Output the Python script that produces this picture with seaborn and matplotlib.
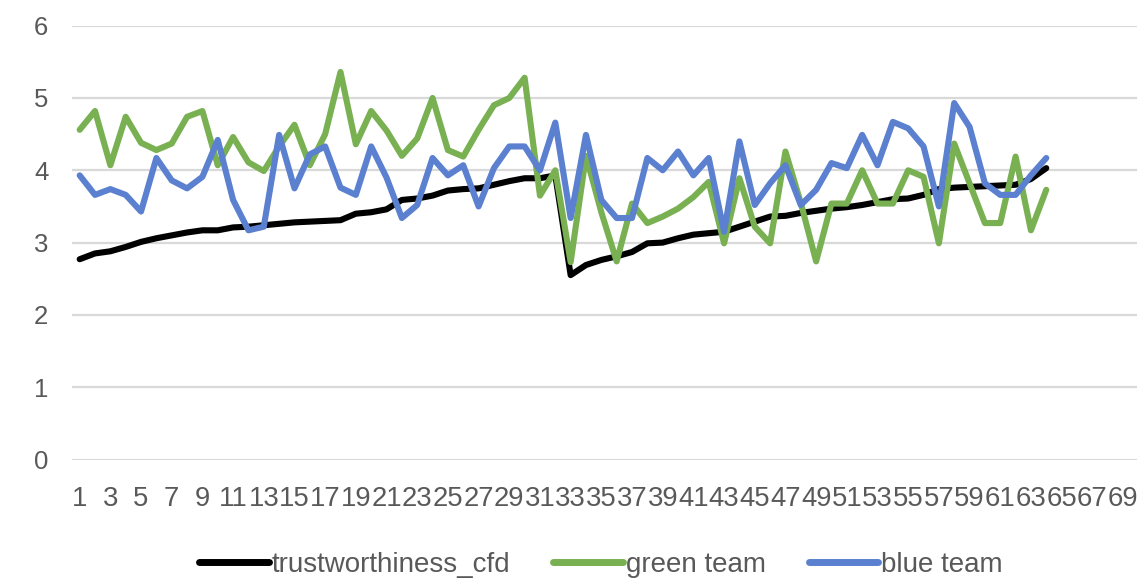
import numpy as np
import pandas as pd
import matplotlib
matplotlib.use("Agg")
import matplotlib.pyplot as plt
import seaborn as sns

# values, rows 1..64
trust_cfd = [2.77, 2.85, 2.88, 2.94, 3.01, 3.06, 3.10, 3.14, 3.17, 3.17,
             3.21, 3.22, 3.24, 3.26, 3.28, 3.29, 3.30, 3.31, 3.40, 3.42,
             3.46, 3.59, 3.61, 3.65, 3.72, 3.74, 3.75, 3.80, 3.85, 3.89,
             3.89, 3.93, 2.55, 2.69, 2.76, 2.81, 2.87, 2.99, 3.00, 3.06,
             3.11, 3.13, 3.15, 3.22, 3.29, 3.36, 3.37, 3.41, 3.44, 3.47,
             3.49, 3.52, 3.56, 3.60, 3.61, 3.66, 3.74, 3.76, 3.77, 3.78,
             3.79, 3.80, 3.88, 4.03]
green_team = [4.56, 4.82, 4.07, 4.74, 4.38, 4.28, 4.37, 4.74, 4.82, 4.07,
              4.46, 4.11, 3.99, 4.33, 4.63, 4.07, 4.50, 5.36, 4.36, 4.82,
              4.55, 4.20, 4.44, 5.00, 4.28, 4.19, 4.56, 4.90, 5.00, 5.28,
              3.65, 4.00, 2.73, 4.20, 3.42, 2.74, 3.54, 3.27, 3.36, 3.47,
              3.63, 3.84, 2.99, 3.89, 3.22, 2.99, 4.26, 3.55, 2.74, 3.54,
              3.54, 4.00, 3.54, 3.54, 4.00, 3.91, 2.99, 4.37, 3.82, 3.27,
              3.27, 4.19, 3.17, 3.73]
blue_team = [3.93, 3.66, 3.74, 3.66, 3.43, 4.17, 3.86, 3.75, 3.91, 4.42,
             3.59, 3.17, 3.22, 4.49, 3.75, 4.22, 4.33, 3.76, 3.66, 4.33,
             3.90, 3.34, 3.52, 4.17, 3.93, 4.07, 3.50, 4.03, 4.33, 4.33,
             4.00, 4.66, 3.34, 4.49, 3.59, 3.34, 3.34, 4.17, 4.00, 4.26,
             3.93, 4.17, 3.15, 4.40, 3.52, 3.82, 4.07, 3.52, 3.73, 4.10,
             4.03, 4.49, 4.07, 4.67, 4.58, 4.33, 3.50, 4.93, 4.60, 3.82,
             3.66, 3.66, 3.93, 4.17]
series_names = ["trustworthiness_cfd", "green team", "blue team"]
n_categories = 70
x_ticks = list(range(1, n_categories, 2))

rows = np.arange(1, len(trust_cfd) + 1)
df = pd.DataFrame({
    "row": np.tile(rows, 3),
    "value": trust_cfd + green_team + blue_team,
    "series": np.repeat(series_names, len(rows)),
})

sns.set_style("white")
plt.rcParams["font.family"] = ["Liberation Sans", "DejaVu Sans"]
grey = "#595959"

fig = plt.figure(figsize=(11.37, 5.78), dpi=100)
ax = fig.add_axes([72 / 1137, 1 - 459.5 / 578, (1146 - 72) / 1137, (459.5 - 25.7) / 578])

palette = {"trustworthiness_cfd": "#000000", "green team": "#78B052", "blue team": "#5A80CF"}
sns.lineplot(data=df, x="row", y="value", hue="series", palette=palette,
             linewidth=4.4, ax=ax, legend=True)

ax.set_xlim(0.5, n_categories + 0.5)
ax.set_ylim(0, 6)
ax.set_yticks(range(0, 7))
ax.set_xticks(x_ticks)
ax.set_xticklabels([str(t) for t in x_ticks])
ax.yaxis.grid(True, color="#D9D9D9", linewidth=1.6)
ax.xaxis.grid(False)
ax.set_axisbelow(True)
for s in ax.spines.values():
    s.set_visible(False)
ax.tick_params(axis="y", length=0, pad=17, labelsize=18.5, labelcolor=grey)
ax.tick_params(axis="x", length=0, pad=19, labelsize=19.8, labelcolor=grey)
ax.set_xlabel("")
ax.set_ylabel("")

handles, labels = ax.get_legend_handles_labels()
ax.legend(handles, labels, loc="center", bbox_to_anchor=(601 / 1137, 1 - 565 / 578),
          bbox_transform=fig.transFigure, ncol=3, frameon=False, fontsize=20,
          handlelength=2.5, handletextpad=0.1, columnspacing=1.55, labelcolor=grey)
for line in ax.get_legend().get_lines():
    line.set_linewidth(5)

fig.savefig("out.png", dpi=100)
